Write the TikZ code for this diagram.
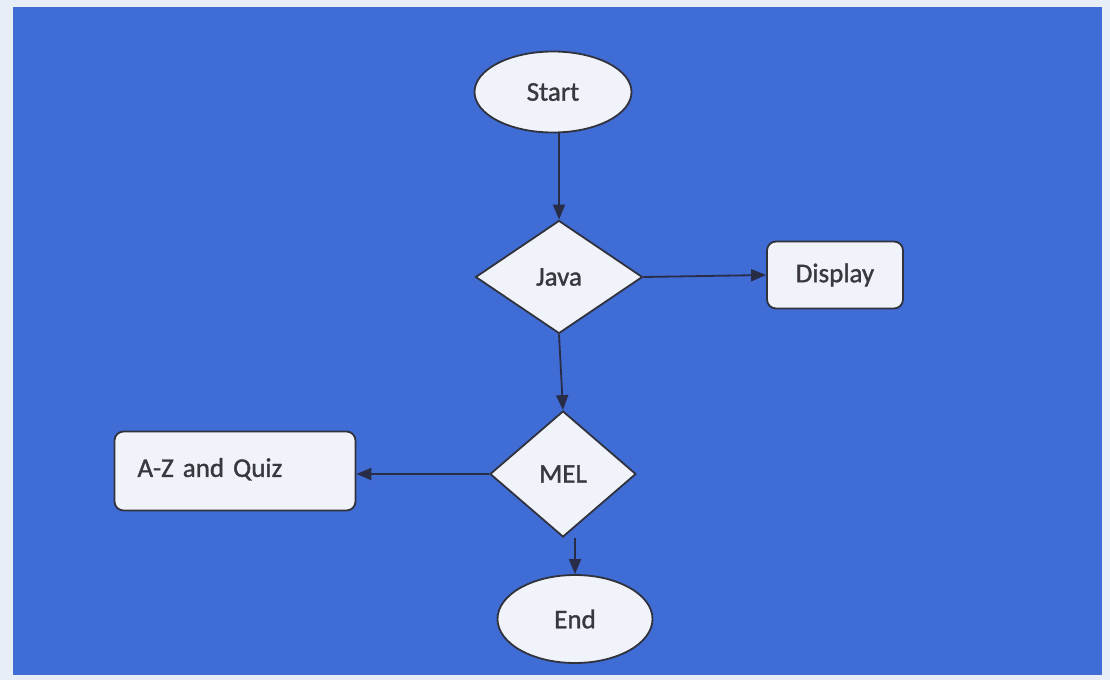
\documentclass[tikz,border=0pt]{standalone}
\usepackage{fontspec}
\setmainfont{Carlito}
\newfontfamily\labelfont{Carlito}[FakeBold=1.2, WordSpace=0.8]
\usetikzlibrary{shapes.geometric,arrows.meta}
\definecolor{pagebg}{RGB}{232,238,248}
\definecolor{panel}{RGB}{64,108,214}
\definecolor{shapefill}{RGB}{240,243,250}
\definecolor{outline}{RGB}{48,50,60}
\definecolor{textgray}{RGB}{56,56,62}
\definecolor{linkcol}{RGB}{40,44,70}
\tikzset{
  base/.style={draw=outline, line width=1.8pt, fill=shapefill, text=textgray,
    font=\labelfont\fontsize{27}{31}\selectfont, inner sep=0pt},
  terminal/.style={base, ellipse},
  decision/.style={base, diamond},
  process/.style={base, rectangle, rounded corners=9pt},
  link/.style={draw=linkcol, line width=1.8pt,
    -{Triangle[length=15pt,width=12pt]}}
}
\begin{document}
\begin{tikzpicture}[x=1pt,y=-1pt]
  % page and blue panel
  \fill[pagebg] (0,0) rectangle (1110,680);
  \fill[panel] (13,7) rectangle (1102,675);
  \useasboundingbox (0,0) rectangle (1110,680);

  % nodes
  \node[terminal, minimum width=157pt, minimum height=81pt] (start) at (553,92) {Start};
  \node[decision, minimum width=167pt, minimum height=113pt] (java) at (559,277) {Java};
  \node[process, minimum width=136pt, minimum height=67pt] (display) at (835,275) {Display};
  \node[decision, minimum width=146pt, minimum height=126pt] (mel) at (563,474) {MEL};
  \node[process, minimum width=241pt, minimum height=79pt, text width=195pt, align=left] (az) at (235,471) {\raisebox{7pt}{A-Z and Quiz}};
  \node[terminal, minimum width=155pt, minimum height=88pt] (end) at (575,619) {End};

  % connectors
  \draw[link] (start.south -| java.north) -- (java.north);
  \draw[link] (java.east) -- (display.west);
  \draw[link] (java.south) -- (mel.north);
  \draw[link] (mel.west) -- (az.east |- mel.west);
  \draw[link] (end.north |- mel.south) -- (end.north);
\end{tikzpicture}
\end{document}
